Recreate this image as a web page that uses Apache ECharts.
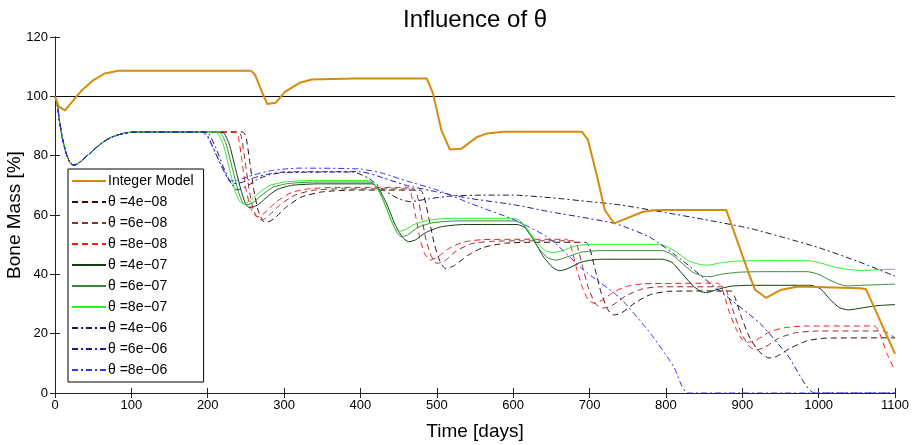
<!DOCTYPE html>
<html>
<head>
<meta charset="utf-8">
<script src="https://cdn.jsdelivr.net/npm/echarts@6/dist/echarts.min.js"></script>
<style>
  html, body { margin: 0; padding: 0; background: #fff; }
  #chart { width: 917px; height: 445px; }
</style>
</head>
<body>
<div id="chart"></div>
<script>
// shared start of every theta run (day, bone mass %)
let commonStart = [[0,100],[3,97],[6,91.5],[10,85.5],[15,80.5],[20,77.5],[25,76.8],[30,77.3],[40,79.5],[50,81.8],[60,84],[70,85.7],[80,86.8],[90,87.5],[100,87.9],[120,88]]

let integerModel = [[0,100],[5,96.5],[13,95.3],[35,102],[50,105.4],[65,107.7],[83,108.6],[257,108.6],[262,107.2],[271,101.5],[278,97.4],[289,97.8],[301,101.5],[321,104.6],[336,105.7],[393,106],[487,106],[495,101],[506,88.6],[517,82.1],[532,82.3],[552,86.2],[566,87.5],[587,88.1],[690,88.1],[698,85.3],[711,71.8],[720,61.7],[732,57.2],[770,61.1],[788,61.7],[879,61.7],[910,39.2],[917,34.7],[931,32.1],[950,34.7],[973,35.9],[1055,35.3],[1062,35],[1100,13.2]]

let th4e8 = [[200,88],[246,88],[250,86.5],[255,78],[260,69],[266,61.5],[272,58],[277,57.5],[287,58.8],[302,62.5],[322,66],[350,67.8],[390,68.4],[478,68.4],[483,66.5],[490,58.5],[497,50],[504,44.5],[511,42],[522,42.8],[540,46.3],[560,49],[590,50.5],[630,50.8],[695,50.8],[700,49],[707,42],[715,34],[723,28.5],[731,26.3],[742,27],[760,30.5],[780,33.2],[805,34.3],[885,34.4],[890,32.5],[899,25.5],[910,18.5],[922,14],[935,11.8],[945,12.3],[962,15],[985,17.6],[1010,18.5],[1100,18.6]]
let th6e8 = [[200,88],[240,88],[244,86.5],[249,78],[254,69],[260,61.5],[266,58.8],[271,58.3],[280,59.8],[295,63.5],[315,66.8],[340,68.4],[375,68.8],[470,68.8],[474,67],[480,59.5],[486,51.5],[493,46],[500,43.7],[510,44.5],[525,47.8],[545,50.3],[570,51.1],[610,51.3],[679,51.3],[684,49.5],[691,42.5],[699,35],[708,30],[718,28.6],[730,29.6],[748,32.8],[768,35],[790,35.8],[875,35.8],[880,34],[889,27],[899,20],[910,15.5],[918,14.5],[930,15.5],[948,18.5],[970,20.3],[1000,20.9],[1085,20.9],[1100,18.5]]
let th8e8 = [[200,88],[236,88],[240,86.5],[245,78],[250,69],[256,62.5],[262,59.8],[266,59.4],[275,60.8],[290,64.5],[310,67.6],[335,68.9],[370,69.3],[462,69.3],[466,67.5],[472,60],[478,52],[484,47],[491,44.8],[500,45.6],[515,48.6],[535,50.9],[560,51.7],[600,51.8],[670,51.8],[675,50],[682,43],[690,36],[698,31.5],[707,30.2],[718,31.5],[730,33.8],[748,35.9],[770,36.8],[868,37],[874,35],[882,28],[892,21.5],[900,18],[907,17.1],[918,17.8],[935,20.5],[955,22],[985,22.6],[1073,22.6],[1080,20],[1090,13],[1100,7.5]]

let th4e7 = [[200,88],[220,87.8],[228,84],[236,76],[244,68],[250,63.5],[255,62.5],[265,63.3],[275,65.5],[290,68.5],[310,70],[345,70.5],[415,70.5],[423,69.2],[434,64],[445,57],[455,52.5],[463,51],[472,51.6],[485,54],[505,56],[535,56.8],[605,56.8],[615,55.8],[627,51.5],[640,45.8],[652,42.3],[661,41.2],[672,42],[690,44.2],[715,45.1],[795,45.1],[808,44],[822,40],[836,36],[846,34.2],[853,33.8],[866,34.8],[885,36],[910,36.3],[990,36.3],[1003,35],[1015,31.5],[1027,28.8],[1039,28],[1055,28.6],[1075,29.4],[1100,29.8]]
let th6e7 = [[200,88],[216,87.8],[224,84],[232,76],[240,68],[246,64],[251,63.4],[260,64.3],[270,66.5],[285,69.3],[305,70.6],[340,71.1],[412,71.1],[420,69.8],[430,65],[440,58.5],[448,54],[454,52.7],[462,53.3],[475,55.8],[495,57.4],[525,58],[602,58],[612,57],[622,53.5],[634,48.5],[646,45.5],[657,44.8],[670,45.8],[690,47.5],[715,48],[795,48],[806,47],[820,44],[835,40.8],[848,39.4],[858,39.2],[872,40],[895,40.7],[925,40.9],[985,40.9],[1000,40],[1015,38],[1028,36.6],[1037,36.1],[1055,36.3],[1100,36.7]]
let th8e7 = [[200,88],[212,87.8],[220,84],[228,76],[236,68],[242,64.5],[247,63.9],[255,64.6],[265,67],[280,69.8],[300,71.1],[330,71.6],[410,71.6],[418,70.5],[428,66],[438,59.5],[445,55.5],[450,54.5],[458,55],[470,56.8],[490,58.3],[520,58.9],[600,58.9],[608,58.3],[618,55.5],[630,51],[642,48],[652,47.3],[665,48],[680,49.5],[700,50.1],[790,50.1],[800,49.5],[815,47.3],[830,44.5],[845,43.3],[855,43.1],[870,43.8],[890,44.4],[920,44.6],[985,44.6],[1000,44],[1020,42.5],[1040,41.6],[1055,41.3],[1075,41.5],[1100,41.7]]

let th4e6 = [[198,88],[210,83],[220,76.5],[230,71],[238,68.5],[250,69.5],[265,72],[280,73.5],[300,74.3],[390,74.5],[410,72.5],[430,68.5],[450,65.5],[465,64.5],[490,65.5],[520,66.4],[560,66.7],[600,66.7],[650,65.8],[700,64.5],[740,63.4],[800,60.8],[850,58.5],[910,55.5],[960,52],[1000,49],[1050,44.5],[1100,39.4]]
let th6e6 = [[195,88],[205,84],[215,78],[225,73],[232,70.5],[245,71],[260,72.5],[280,73.8],[300,74.5],[400,74.6],[430,72.5],[460,70],[500,67.8],[543,65.6],[600,63.5],[650,61],[700,58.8],[735,57],[779,52.5],[820,45],[866,35.3],[923,23.5],[960,12.5],[995,0],[1100,0]]
let th8e6 = [[192,88],[200,86],[210,81],[220,75.5],[229,71.5],[240,71.8],[260,73.5],[280,74.8],[300,75.5],[320,75.8],[400,75.5],[430,74],[460,71.5],[500,68.5],[543,64],[605,58],[648,52],[692,41.5],[740,32],[780,20],[810,9],[829,0],[1100,0]]

let seriesNames = ['Integer Model','θ =4e−08','θ =6e−08','θ =8e−08','θ =4e−07','θ =6e−07','θ =8e−07','θ =4e−06','θ =6e−06','θ =8e−06']

let FONT = 'Arial, "Liberation Sans", Helvetica, sans-serif'
let chart = echarts.init(document.getElementById('chart'))

function thetaLine(name, data, color, type) {
  return {
    name: name,
    type: 'line',
    data: commonStart.concat(data),
    symbol: 'none',
    smooth: 0.2,
    lineStyle: { color: color, width: 1, type: type },
    itemStyle: { color: color },
    z: 2
  }
}

let dash = [6, 4]
let dashDot = [6, 3, 2, 3]
let plain = v => String(v)

let option = {
  animation: false,
  backgroundColor: '#fff',
  title: {
    text: 'Influence of θ',
    left: 398,
    top: 3,
    textStyle: { fontFamily: FONT, fontSize: 24, fontWeight: 'normal', color: '#000' }
  },
  grid: { left: 55, right: 22, top: 37, bottom: 52, containLabel: false, outerBoundsMode: 'none' },
  legend: {
    orient: 'vertical',
    left: 68,
    top: 169,
    itemWidth: 34,
    itemHeight: 14,
    itemGap: 7,
    padding: [5, 10, 5, 3],
    backgroundColor: '#fff',
    borderColor: '#000',
    borderWidth: 1,
    borderRadius: 0,
    itemStyle: { opacity: 0 },
    textStyle: { fontFamily: FONT, fontSize: 14, color: '#000', padding: [0, 0, 0, -3] },
    data: seriesNames
  },
  xAxis: [{
    type: 'value', min: 0, max: 1100, interval: 100,
    name: 'Time [days]', nameLocation: 'middle', nameGap: 29, nameMoveOverlap: false,
    nameTextStyle: { fontFamily: FONT, fontSize: 19, color: '#000' },
    axisLine: { lineStyle: { color: '#222', width: 1 } },
    axisTick: { inside: true, length: 5, lineStyle: { color: '#222' } },
    axisLabel: { fontFamily: FONT, fontSize: 13, color: '#000', margin: 6, formatter: plain },
    splitLine: { show: false }
  }, {
    type: 'value', min: 0, max: 1100, interval: 100, position: 'top',
    axisLine: { lineStyle: { color: '#222', width: 1 } },
    axisTick: { inside: true, length: 5, lineStyle: { color: '#222' } },
    axisLabel: { show: false },
    splitLine: { show: false }
  }],
  yAxis: [{
    type: 'value', min: 0, max: 120, interval: 20,
    name: 'Bone Mass [%]', nameLocation: 'middle', nameGap: 31, nameMoveOverlap: false,
    nameTextStyle: { fontFamily: FONT, fontSize: 19, color: '#000' },
    axisLine: { show: true, lineStyle: { color: '#222', width: 1 } },
    axisTick: { show: true, inside: true, length: 5, lineStyle: { color: '#222' } },
    axisLabel: { fontFamily: FONT, fontSize: 13, color: '#000', margin: 7 },
    splitLine: { show: false }
  }, {
    type: 'value', min: 0, max: 120, interval: 20, position: 'right',
    axisLine: { show: true, lineStyle: { color: '#222', width: 1 } },
    axisTick: { show: true, inside: true, length: 5, lineStyle: { color: '#222' } },
    axisLabel: { show: false },
    splitLine: { show: false }
  }],
  series: [
    {
      name: seriesNames[0],
      type: 'line',
      data: integerModel,
      symbol: 'none',
      lineStyle: { color: '#d68a0e', width: 2 },
      itemStyle: { color: '#d68a0e' },
      z: 5,
      markLine: {
        silent: true,
        symbol: 'none',
        label: { show: false },
        lineStyle: { color: '#000', width: 1, type: 'solid' },
        data: [{ yAxis: 100 }]
      }
    },
    thetaLine(seriesNames[1], th4e8, '#3a0a0a', dash),
    thetaLine(seriesNames[2], th6e8, '#8a3030', dash),
    thetaLine(seriesNames[3], th8e8, '#ff1a1a', dash),
    thetaLine(seriesNames[4], th4e7, '#0f3d0f', 'solid'),
    thetaLine(seriesNames[5], th6e7, '#3a8a3a', 'solid'),
    thetaLine(seriesNames[6], th8e7, '#2cf02c', 'solid'),
    thetaLine(seriesNames[7], th4e6, '#1a1a4d', dashDot),
    thetaLine(seriesNames[8], th6e6, '#1a1aa0', dashDot),
    thetaLine(seriesNames[9], th8e6, '#3333ff', dashDot)
  ]
}
chart.setOption(option)
</script>
</body>
</html>
